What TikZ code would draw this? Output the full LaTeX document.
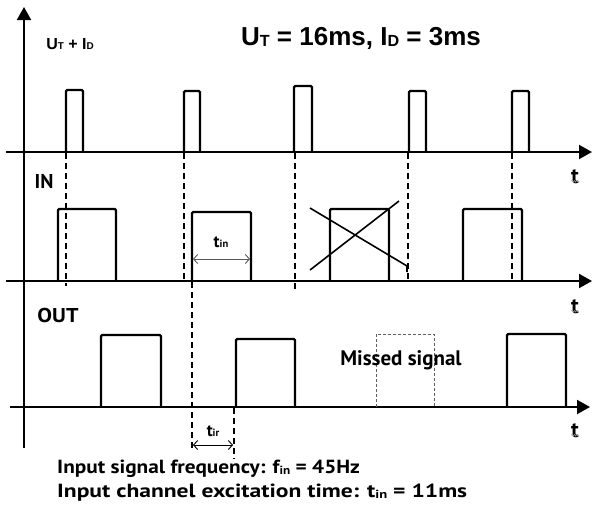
\documentclass[tikz,border=0pt]{standalone}
\usepackage{fontspec}
\setmainfont{PT Sans}
\newfontfamily\arialf{Liberation Sans}
\usetikzlibrary{arrows.meta,decorations.pathmorphing}
\newcommand\lsub[1]{\raisebox{-0.04em}{\scalebox{0.62}{#1}}}
\tikzset{
  axis/.style={line width=2pt,-{Triangle[length=13pt,width=14pt]}},
  pulse/.style={line width=2.3pt,rounded corners=1.2pt},
  guide/.style={line width=1.6pt,dash pattern=on 6pt off 4pt},
  missed/.style={line width=0.8pt,gray!75!black,dash pattern=on 3pt off 2pt},
  cross/.style={line width=1.6pt},
  meas/.style={line width=0.9pt,{Straight Barb[length=4pt,width=9pt]}-{Straight Barb[length=4pt,width=9pt]}},
  lbl/.style={inner sep=0pt},
  squig/.style={gray!70,line width=0.5pt,decorate,decoration={snake,amplitude=0.8pt,segment length=2.5pt}}
}
\begin{document}
\begin{tikzpicture}[x=1pt,y=-1pt]
\useasboundingbox (0,0) rectangle (592,504);
% axes
\draw[axis] (24,448) -- (24,7);
\draw[axis] (6,152) -- (592,152);
\draw[axis] (6,281) -- (592,281);
\draw[axis] (10,407) -- (590,407);
% top pulses (U_T + I_D)
\draw[pulse] (66,152) -- (66,90) -- (83,90) -- (83,152);
\draw[pulse] (184,152) -- (184,91) -- (200,91) -- (200,152);
\draw[pulse] (294,152) -- (294,86) -- (312,86) -- (312,152);
\draw[pulse] (409,152) -- (409,91) -- (426,91) -- (426,152);
\draw[pulse] (512,152) -- (512,91) -- (529,91) -- (529,152);
% guide lines
\draw[guide] (66,153) -- (66,286);
\draw[guide] (184,153) -- (184,280);
\draw[guide] (192,282) -- (192,449);
\draw[guide] (295,153) -- (295,292);
\draw[guide] (408,153) -- (408,282);
\draw[guide] (512,153) -- (512,280);
\draw[guide] (234,408) -- (234,459);
% IN pulses
\draw[pulse] (58,281) -- (58,209) -- (116,209) -- (116,281);
\draw[pulse] (192,281) -- (192,212) -- (251,212) -- (251,281);
\draw[pulse] (330,281) -- (330,209) -- (389,209) -- (389,281);
\draw[pulse] (463,281) -- (463,209) -- (522,209) -- (522,281);
% cross
\draw[cross] (310,208) -- (407,266) -- (407,272);
\draw[cross] (310,270) -- (399,201);
% OUT pulses
\draw[pulse] (101,407) -- (101,335) -- (161,335) -- (161,407);
\draw[pulse] (236,407) -- (236,339) -- (295,339) -- (295,407);
\draw[missed] (376,407) -- (376,334) -- (434,334) -- (434,407);
\draw[pulse] (507,407) -- (507,334) -- (566,334) -- (566,407);
% measurement arrows
\coordinate (tinA) at (193,259);
\coordinate (tinB) at (250,259);
\draw[meas,gray!70!black] (tinA) -- (tinB);
\coordinate (tirA) at (193,445);
\coordinate (tirB) at (233,445);
\draw[meas] (tirA) -- (tirB);
% labels
\node[lbl,font=\arialf\bfseries\fontsize{16}{18}\selectfont] (ylab) at (70,44) {U\lsub{T} + I\lsub{D}};
\node[lbl,font=\arialf\bfseries\fontsize{26}{28}\selectfont] (title) at (361,38) {U\lsub{T} = 16ms, I\lsub{D} = 3ms};
\node[lbl,font=\bfseries\fontsize{20}{22}\selectfont] (in) at (44,181) {IN};
\node[lbl,font=\bfseries\fontsize{20}{22}\selectfont] (out) at (58,315) {\scalebox{1.1}[1]{OUT}};
\node[lbl,font=\bfseries\fontsize{22}{24}\selectfont] (t1) at (575,177) {t};
\node[lbl,font=\bfseries\fontsize{22}{24}\selectfont] (t2) at (575,307) {t};
\node[lbl,font=\bfseries\fontsize{22}{24}\selectfont] (t3) at (575,431) {t};
\draw[squig] ([yshift=3pt]t1.south west) -- ([yshift=3pt]t1.south east);
\draw[squig] ([yshift=3pt]t2.south west) -- ([yshift=3pt]t2.south east);
\draw[squig] ([yshift=3pt]t3.south west) -- ([yshift=3pt]t3.south east);
\node[lbl,font=\bfseries\fontsize{17}{19}\selectfont] (tin) at (221,242) {t\lsub{in}};
\node[lbl,font=\bfseries\fontsize{17}{19}\selectfont] (tir) at (213,431) {t\lsub{ir}};
\node[lbl,font=\bfseries\fontsize{21}{23}\selectfont] (miss) at (401,360) {Missed signal};
\node[lbl,font=\bfseries\fontsize{19}{21}\selectfont,anchor=west] (info1) at (57,469) {\scalebox{1.12}[1]{Input signal frequency: f\lsub{in} = 45Hz}};
\node[lbl,font=\bfseries\fontsize{19}{21}\selectfont,anchor=west] (info2) at (57,493) {\scalebox{1.24}[1]{Input channel excitation time: t\lsub{in} = 11ms}};
\end{tikzpicture}
\end{document}
